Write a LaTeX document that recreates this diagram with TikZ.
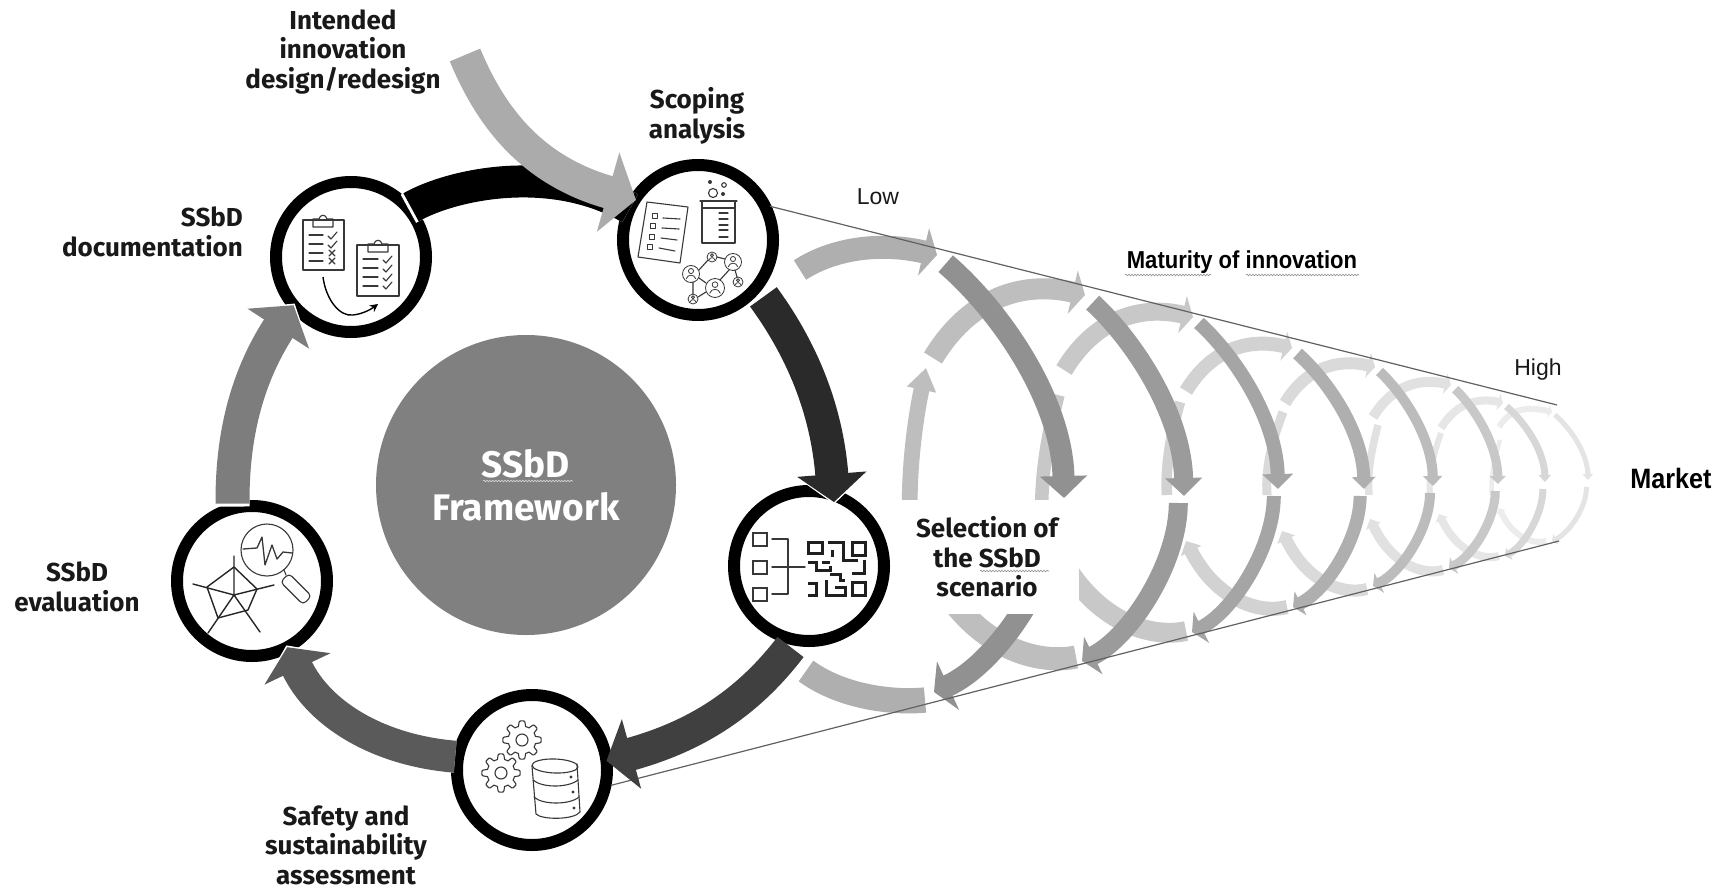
\documentclass[tikz,border=0pt]{standalone}
\usepackage{fontspec}
\setmainfont{Fira Sans}
\newfontfamily\lib{Liberation Sans}
\newfontfamily\libn[FakeStretch=.9]{Liberation Sans}
\usetikzlibrary{arrows.meta,decorations.pathmorphing}
\definecolor{cBlack}{RGB}{0,0,0}
\definecolor{cDarkA}{RGB}{42,42,42}
\definecolor{cDarkB}{RGB}{64,64,64}
\definecolor{cDarkC}{RGB}{90,90,90}
\definecolor{cMid}{RGB}{125,125,125}
\definecolor{cIn}{RGB}{171,171,171}
\definecolor{cDisk}{RGB}{128,128,128}
\definecolor{cTxt}{RGB}{25,25,25}
\tikzset{
  x=1pt,y=-1pt,
  cyc/.style={circle,draw=black,line width=12pt,fill=white,minimum size=150pt,inner sep=0pt,outer sep=0pt},
  lab/.style={font=\bfseries\fontsize{26}{29.5}\selectfont,text=cTxt,align=center,inner sep=0pt},
  thinlab/.style={font=\lib\fontsize{23}{27}\selectfont,text=cTxt,inner sep=0pt},
  boldlib/.style={font=\libn\bfseries\fontsize{#1}{#1}\selectfont,text=black,inner sep=0pt},
  icon/.style={line width=1.1pt,draw=black!78,line join=round,line cap=round},
  iconb/.style={line width=3pt,draw=black!88,line join=miter},
  wavy/.style={draw=black!45,line width=.6pt,decorate,decoration={snake,amplitude=.8pt,segment length=3pt}},
  bigarrow/.style 2 args={line width=#1pt,draw=#2},
  funnel/.style={draw=black!62,line width=1.2pt}
}
\newcommand{\chk}[2]{\draw[icon] (#1-4,#2) -- ++(3,3) -- ++(6,-7);}
\newcommand{\crs}[2]{\draw[icon] (#1-3,#2-3) -- ++(6,6) (#1+3,#2-3) -- ++(-6,6);}
\newcommand{\gear}[2]{\draw[icon] plot[domain=0:360,samples=121,variable=\t]
  ({#1+(16.5+2.6*max(-1,min(1,2.2*cos(8*\t))))*cos(\t)},{#2+(16.5+2.6*max(-1,min(1,2.2*cos(8*\t))))*sin(\t)}) -- cycle;
  \draw[icon] (#1,#2) circle[radius=6];}
\newcommand{\person}[3]{\draw[icon,line width=.8pt] (#1,#2) circle[radius=#3];
  \draw[icon,line width=.8pt] (#1,#2-.35*#3) circle[radius=.3*#3];
  \draw[icon,line width=.8pt] (#1-.55*#3,#2+.55*#3) .. controls (#1-.4*#3,#2) and (#1+.4*#3,#2) .. (#1+.55*#3,#2+.55*#3);}
\begin{document}
\begin{tikzpicture}
\useasboundingbox (0,0) rectangle (1720,888);
\fill[white] (0,0) rectangle (1720,888);

% ---- funnel rings, right to left
\foreach \k/\Tx/\Ty/\Lsx/\Lsy/\Mx/\My/\Bx/\By/\Sx/\Sy/\Ex/\Ey/\Lax/\Lay/\Lbx/\Lby/\lw/\dw/\hw/\hl/\lc/\dc/\lift in {
 8/1552/412/1499/427/1588/480/1552/541/1546/541/1499/508/1492/495/1500/440/6/5/10/6/236/228/.38,
 7/1503/403/1441/428/1545/482/1505/556/1499/556/1439/514/1430/495/1441/433/8/7/12/7/230/215/.38,
 6/1451/385/1373/417/1498/484/1449/568/1443/570/1370/519/1369/495/1378/425/10/9/16/8/225/200/.38,
 5/1375/367/1285/403/1433/486/1373/586/1367/589/1282/531/1267/495/1283/412/12/10/19/10/218/188/.38,
 4/1292/348/1186/391/1364/489/1293/607/1287/607/1186/541/1167/495/1180/402/14/13/23/12/210/175/.38,
 3/1193/317/1064/370/1278/489/1192/632/1186/631/1065/565/1042/520/1058/395/18/14/30/15/200/165/.38,
 2/1085/295/933/358/1184/496/1082/661/1076/657/945/590/910/520/926/368/21/19/36/18/190/155/.38,
 1/937/255/800/270/1064/498/934/692/925/700/806/671/0/0/0/0/23/22/46/22/175/145/.15}{
  \definecolor{ringL}{RGB}{\lc,\lc,\lc}
  \definecolor{ringD}{RGB}{\dc,\dc,\dc}
  % left arc
  \ifnum\k>1
    \pgfmathsetmacro{\lfw}{.75*\lw}
    \pgfmathsetmacro{\lfh}{\Lay-\Lby}
    \pgfmathsetmacro{\lfd}{\Lbx-\Lax}
    \ifnum\k=2
    \draw[line width=\lfw pt,ringL,-{Triangle[width=1.8*\lfw pt,length=1.4*\lfw pt]}]
      (\Lax,\Lay) .. controls (\Lax-2,\Lay-.35*\lfh) and (\Lbx-.6*\lfd,\Lby+.3*\lfh) .. (\Lbx,\Lby);
    \else
    \draw[line width=\lfw pt,ringL]
      (\Lax,\Lay) .. controls (\Lax-2,\Lay-.35*\lfh) and (\Lbx-.6*\lfd,\Lby+.3*\lfh) .. (\Lbx,\Lby);
    \fi
  \fi
  % lower light arc
  \pgfmathsetmacro{\ldx}{\Sx-\Ex}
  \pgfmathsetmacro{\ldy}{\Sy-\Ey}
  \ifnum\k>3
    \draw[line width=\lw pt,ringL,-{Triangle[width=1.6*\lw pt,length=.8*\lw pt]}]
      (\Sx,\Sy) .. controls (\Sx-.27*\ldx,\Sy+.11*\ldy) and (\Ex+.3*\ldx,\Ey+.9*\ldy) .. (\Ex,\Ey);
  \else
    \draw[line width=1.1*\lw pt,ringL]
      (\Sx,\Sy) .. controls (\Sx-.27*\ldx,\Sy+.11*\ldy) and (\Ex+.3*\ldx,\Ey+.9*\ldy) .. (\Ex,\Ey);
  \fi
  % top light arc
  \pgfmathsetmacro{\tdx}{\Tx-\Lsx}
  \draw[line width=\lw pt,ringL,-{Triangle[width=2.1*\lw pt,length=.6*\lw pt]}]
    (\Lsx,\Lsy) .. controls (\Lsx+.23*\tdx,\Lsy-\lift*\tdx) and (\Tx-.43*\tdx,\Ty-.1*\tdx) .. (\Tx,\Ty);
  % upper dark arc
  \pgfmathsetmacro{\ox}{\Tx+.35*\dw+1}
  \pgfmathsetmacro{\oy}{\Ty+.35*\dw+1}
  \pgfmathsetmacro{\udx}{\Mx-\ox}
  \pgfmathsetmacro{\udy}{\My-\oy}
  \draw[line width=\dw pt,ringD,-{Triangle[width=\hw pt,length=\hl pt]}]
    (\ox,\oy) .. controls (\ox+.46*\udx,\oy+.2*\udy) and (\Mx-.02*\udx,\oy+.58*\udy) .. (\Mx,\My);
  % lower dark arc
  \pgfmathsetmacro{\px}{\Mx-.3*\dw}
  \pgfmathsetmacro{\py}{\My+7}
  \pgfmathsetmacro{\vdx}{\px-\Bx}
  \pgfmathsetmacro{\vdy}{\By-\py}
  \draw[line width=\dw pt,ringD,-{Triangle[width=1.15*\hw pt,length=.7*\hl pt]}]
    (\px,\py) .. controls (\px,\py+.38*\vdy) and (\Bx+.5*\vdx,\By-.15*\vdy) .. (\Bx,\By);
}

% ---- text box that interrupts the rings
\node[lab,fill=white,minimum width=184pt,minimum height=114pt] (nSelText) at (987,557) {Selection of\\the SSbD\\scenario};

% ---- central disk
\node[circle,fill=cDisk,minimum size=300pt,inner sep=0pt,text=white,align=center,
  font=\bfseries\fontsize{37}{43}\selectfont] (nCore) at (526,485) {SSbD\\Framework};

% ---- stage circles
\node[cyc] (nScoping) at (698,240) {};
\node[cyc] (nDoc) at (351,257) {};
\node[cyc] (nSel) at (809,566) {};
\node[cyc] (nSafety) at (532,770) {};
\node[cyc] (nEval) at (252,581) {};

% ---- funnel lines
\draw[funnel,shorten <=6pt] (nScoping.28) -- (1557,405);
\draw[funnel,shorten <=6pt] (nSafety.-13) -- (1559,541);

% ---- icon: scoping
\draw[icon] (647,202) -- (688,207) -- (680,263) -- (638,257) -- cycle;
\foreach \bx/\by in {655/216,653/226,652/237,650/247}{\draw[icon] (\bx-2.5,\by-2.5) rectangle (\bx+2.5,\by+2.5);}
\draw[icon] (663,218) -- (680,219) (662,228) -- (679,229) (661,238) -- (677,240) (659,248) -- (675,251);
\draw[icon] (700,201) -- (737,201) (702,201) -- (702,243) -- (735,243) -- (735,201) (702,208) -- (735,208);
\draw[icon] (719,213) -- (728,213) (719,219) -- (728,219) (719,225) -- (728,225) (719,230) -- (728,230) (719,237) -- (728,237);
\draw[icon] (713,193) circle[radius=4.5] (724,185) circle[radius=2.3];
\fill[black!78] (710,182) circle[radius=2] (723,194) circle[radius=2];
\draw[icon] (699,270) -- (708,260) (717,257) -- (725,259) (729,270) -- (720,280) (693,282) -- (693,294) (698,297) -- (706,292) (699,278) -- (706,283) (735,270) -- (737,277);
\person{691}{274}{8.5}\person{733}{262}{8.5}\person{715}{288}{9.5}
\person{712}{257}{5}\person{738}{282}{5}\person{693}{299}{5}

% ---- icon: documentation
\draw[icon] (303,220) rectangle (344,270);
\draw[icon] (313,227) -- (313,219) -- (319,219) .. controls (320,214) and (326,214) .. (327,219) -- (333,219) -- (333,227) -- cycle;
\draw[icon] (309,235) -- (323,235) (309,244) -- (323,244) (309,253) -- (323,253) (309,261) -- (323,261);
\chk{332}{236}\chk{332}{245}\crs{332}{253}\crs{332}{261}
\draw[icon] (357,245) rectangle (399,296);
\draw[icon] (368,252) -- (368,244) -- (374,244) .. controls (375,239) and (381,239) .. (382,244) -- (388,244) -- (388,252) -- cycle;
\draw[icon] (363,259) -- (378,259) (363,268) -- (378,268) (363,277) -- (378,277) (363,286) -- (378,286);
\chk{387}{260}\chk{387}{269}\chk{387}{278}\chk{387}{286}
\draw[line width=1.4pt,black,-{Stealth[width=8pt,length=8pt]}] (323,277) .. controls (326,300) and (340,317) .. (353,315) .. controls (362,314) and (370,310) .. (378,304);

% ---- icon: selection
\foreach \by in {533,561,588}{\draw[icon,line width=1.6pt,line join=miter] (753,\by) rectangle (767,\by+13);}
\draw[icon,line width=1.4pt] (772,539) -- (788,539) -- (788,594) -- (772,594) (772,567) -- (805,567);
\draw[iconb] (808,542) rectangle (822,553) (852,542) rectangle (865,555) (852,582) rectangle (865,595);
\draw[iconb] (828,542) -- (843,542) -- (843,560) -- (858,560)
  (832,550) -- (832,557)
  (808,562) -- (816,562) -- (816,570) -- (830,570) -- (830,566)
  (822,562) -- (830,562)
  (830,574) -- (840,574) -- (840,580) -- (845,580)
  (864,560) -- (864,573) -- (852,573)
  (808,583) -- (816,583) -- (816,595) -- (808,595)
  (826,580) -- (826,595) -- (845,595) -- (845,587) -- (835,587);

% ---- icon: safety
\gear{522}{740}\gear{501}{773}
\draw[icon] (532,766) -- (536,814) .. controls (542,820) and (574,820) .. (580,812) -- (577,764);
\draw[icon,rotate around={-2:(555,766)}] (555,766) ellipse[x radius=23,y radius=7];
\draw[icon] (533,780) .. controls (542,788) and (568,788) .. (578,780);
\draw[icon] (534,797) .. controls (542,805) and (570,805) .. (579,797);
\fill[black!78] (571,777) circle[radius=1.6] (573,792) circle[radius=1.6] (574,808) circle[radius=1.6];

% ---- icon: evaluation
\draw[icon] (267,550) circle[radius=26];
\draw[icon] (284,570) -- (286,575);
\draw[icon,rounded corners=4pt,rotate around={-45:(296,589)}] (280,583) rectangle (312,595);
\draw[icon,line width=1.3pt] (243,549) -- (257,548) -- (262,537) -- (265,565) -- (272,545) -- (277,559) -- (283,552) -- (292,553);
\draw[icon,line width=1.4pt,draw=black!85] (234,595) -- (234,556) (234,595) -- (193,584) (234,595) -- (208,633) (234,595) -- (260,632) (234,595) -- (274,585);
\draw[icon,line width=1.4pt,draw=black!85] (234,567) -- (207,587) -- (218,618) -- (248,610) -- (257,589) -- cycle;

% ---- main cycle (each with a thin white edge where it meets a ring)
\draw[bigarrow={32}{white}] (nDoc.40) .. controls (450,185) and (550,162) .. (nScoping.155);
\draw[bigarrow={32}{cBlack},shorten <=3pt] (nDoc.40) .. controls (450,185) and (550,162) .. (nScoping.155);

\draw[bigarrow={33}{white},-{Triangle[width=73pt,length=31pt]},shorten >=-9pt,shorten <=12pt]
  (nScoping.-39) .. controls (795,340) and (826,400) .. (nSel.71);
\draw[bigarrow={33}{cDarkA},-{Triangle[width=68pt,length=28pt]},shorten >=-7pt,shorten <=12pt]
  (nScoping.-39) .. controls (795,340) and (826,400) .. (nSel.71);

\draw[bigarrow={33}{cDarkB},-{Triangle[width=71pt,length=26pt]},shorten <=9pt]
  (nSel.-100) .. controls (750,700) and (700,735) .. (nSafety.7);

\draw[bigarrow={32}{white},-{Triangle[width=77pt,length=27pt]},shorten >=-2pt,shorten <=3pt]
  (nSafety.170) .. controls (375,750) and (318,712) .. (nEval.-62);
\draw[bigarrow={32}{cDarkC},-{Triangle[width=72pt,length=24pt]},shorten <=3pt]
  (nSafety.170) .. controls (375,750) and (318,712) .. (nEval.-62);

\draw[bigarrow={34}{white},-{Triangle[width=77pt,length=31pt]},shorten >=-2pt,shorten <=2pt]
  (nEval.105) .. controls (232,440) and (245,380) .. (nDoc.220);
\draw[bigarrow={34}{cMid},-{Triangle[width=72pt,length=28pt]},shorten <=5pt]
  (nEval.105) .. controls (232,440) and (245,380) .. (nDoc.220);

% ---- incoming arrow
\coordinate (cIntended) at (465,55);
\draw[bigarrow={33}{cIn},-{Triangle[width=81pt,length=29pt]}]
  (cIntended) .. controls (490,115) and (530,170) .. (636,200);

% ---- labels
\node[lab] (nLabA) at (343,52) {Intended\\innovation\\design/redesign};
\node[lab] (nLabB) at (697,116) {Scoping\\analysis};
\node[lab,align=right,anchor=east] (nLabC) at (243,232) {SSbD\\documentation};
\node[lab] (nLabD) at (77,587) {SSbD\\evaluation};
\node[lab] (nLabE) at (346,845) {Safety and\\sustainability\\assessment};
\node[thinlab] (nLow) at (878,197) {Low};
\node[thinlab] (nHigh) at (1538,370) {High};
\node[boldlib=24.5] (nMat) at (1242,262) {Maturity of innovation};
\node[boldlib=28] (nMarket) at (1671,478) {Market};

% ---- spell-check underlines printed in the picture
\draw[wavy] (1125,275) -- (1211,275);
\draw[wavy] (1246,275) -- (1359,275);
\draw[wavy] (980,571) -- (1049,571);
\draw[wavy,draw=black!15] (483,481) -- (573,481);
\end{tikzpicture}
\end{document}
